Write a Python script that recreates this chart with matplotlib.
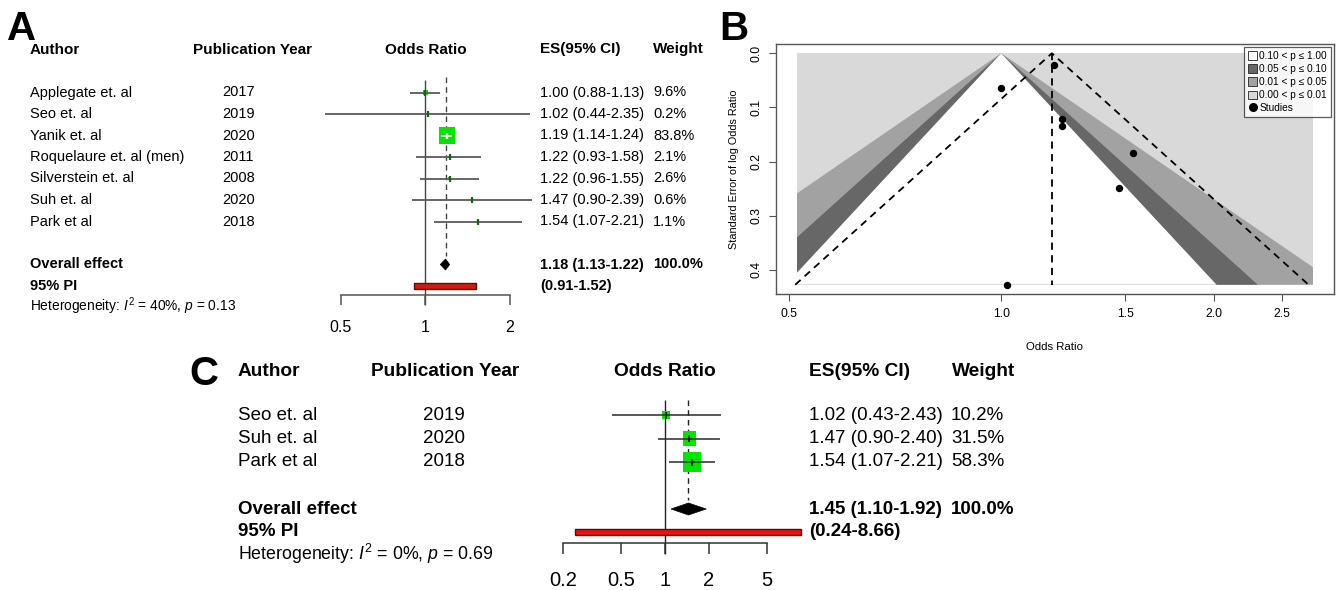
import numpy as np
import matplotlib
matplotlib.use("Agg")
import matplotlib.pyplot as plt
from matplotlib import transforms as mtransforms
from matplotlib.patches import Rectangle, Polygon, Patch
from matplotlib.lines import Line2D
from matplotlib.ticker import NullLocator
from statistics import NormalDist

W, H = 1342, 590
SANS = ['Liberation Sans', 'DejaVu Sans']
plt.rcParams['font.family'] = SANS
plt.rcParams['mathtext.fontset'] = 'custom'
plt.rcParams['mathtext.rm'] = 'Liberation Sans'
plt.rcParams['mathtext.it'] = 'Liberation Sans:italic'

# ---------------- Panel A data ----------------
a_authors = ["Applegate et. al", "Seo et. al", "Yanik et. al", "Roquelaure et. al (men)",
             "Silverstein et. al", "Suh et. al", "Park et al"]
a_years = ["2017", "2019", "2020", "2011", "2008", "2020", "2018"]
a_or = [1.00, 1.02, 1.19, 1.22, 1.22, 1.47, 1.54]
a_lo = [0.88, 0.44, 1.14, 0.93, 0.96, 0.90, 1.07]
a_hi = [1.13, 2.35, 1.24, 1.58, 1.55, 2.39, 2.21]
a_weight = [9.6, 0.2, 83.8, 2.1, 2.6, 0.6, 1.1]
a_pooled = [1.18, 1.13, 1.22]
a_pi = [0.91, 1.52]
a_i2 = 40
a_p = 0.13
a_ticks = [0.5, 1, 2]

# ---------------- Panel C data ----------------
c_authors = ["Seo et. al", "Suh et. al", "Park et al"]
c_years = ["2019", "2020", "2018"]
c_or = [1.02, 1.47, 1.54]
c_lo = [0.43, 0.90, 1.07]
c_hi = [2.43, 2.40, 2.21]
c_weight = [10.2, 31.5, 58.3]
c_pooled = [1.45, 1.10, 1.92]
c_pi = [0.24, 8.66]
c_i2 = 0
c_p = 0.69
c_ticks = [0.2, 0.5, 1, 2, 5]

# ---------------- Panel B data (funnel) ----------------
b_or = a_or
b_lo = a_lo
b_hi = a_hi
b_center = 1.18
b_p_levels = [0.10, 0.05, 0.01]
b_region_labels = ["0.10 < p \u2264 1.00", "0.05 < p \u2264 0.10",
                   "0.01 < p \u2264 0.05", "0.00 < p \u2264 0.01"]
b_region_colors = ["white", "#676767", "#a2a2a2", "#d9d9d9"]
b_xrange = [0.513, 2.77]
b_xticks = [0.5, 1.0, 1.5, 2.0, 2.5]
b_yticks = [0.0, 0.1, 0.2, 0.3, 0.4]

fig = plt.figure(figsize=(W / 100, H / 100), dpi=100)
fig.patch.set_facecolor("white")


def draw_forest(d, s):
    top_px = s['row0'] + s['row_h'] * s['span'][0]
    bot_px = s['row0'] + s['row_h'] * s['span'][1]
    ax = fig.add_axes([s['x0'] / W, 1 - bot_px / H, (s['x1'] - s['x0']) / W, (bot_px - top_px) / H])
    ax.set_xscale('log')
    xlim = (d['ticks'][0], d['ticks'][-1])
    ax.set_xlim(*xlim)
    ax.set_ylim(s['span'][1], s['span'][0])
    ax.patch.set_alpha(0)
    for side in ('left', 'right', 'top'):
        ax.spines[side].set_visible(False)
    ax.spines['bottom'].set_position(('data', s['axis_row']))
    ax.spines['bottom'].set_color(s['axis_color'])
    ax.spines['bottom'].set_linewidth(s['axis_lw'])
    ax.set_yticks([])
    ax.set_xticks(d['ticks'])
    ax.xaxis.set_minor_locator(NullLocator())
    ax.set_xticklabels([f"{t:g}" for t in d['ticks']])
    ax.tick_params(axis='x', direction='out', length=s['tick_len'], width=s['axis_lw'],
                   color=s['axis_color'], pad=s['tick_pad'], labelsize=s['fs_tick'])
    rh = s['row_h']
    ppd = (s['x1'] - s['x0']) / np.log10(xlim[1] / xlim[0])
    tick_end = s['axis_row'] + s['tick_len'] * 100 / 72 / rh
    blend = mtransforms.blended_transform_factory(fig.transFigure, ax.transData)
    cblend = mtransforms.blended_transform_factory(ax.transAxes, ax.transData)

    # reference and pooled lines
    ax.plot([1, 1], [s['ref_top'], tick_end], color=s['ref_color'], lw=s['ref_lw'], zorder=1,
            solid_capstyle='butt', clip_on=False)
    est, plo, phi = d['pooled']
    ax.plot([est, est], [s['dash_top'], s['dash_bot']], color=s['dash_color'], lw=s['dash_lw'],
            ls=(0, (4, 3)), zorder=1, clip_on=False)

    wmax = max(d['w'])
    for r, (e, lo, hi, w) in enumerate(zip(d['or'], d['lo'], d['hi'], d['w'])):
        side = s['box_max'] * np.sqrt(w / wmax)
        hw = 10 ** (side / 2 / ppd)
        bx0, bx1 = e / hw, e * hw
        hh = side * s['box_aspect'] / 2 / rh
        ax.add_patch(Rectangle((bx0, r - hh), bx1 - bx0, 2 * hh, facecolor=s['box_color'],
                               edgecolor='none', zorder=3, clip_on=False))
        inside = lo >= bx0 and hi <= bx1
        lc = 'white' if inside else s['line_color']
        mc = 'white' if inside else s['mark_color']
        ax.plot([lo, hi], [r, r], color=lc, lw=s['line_lw'], zorder=4, solid_capstyle='butt',
                clip_on=False)
        th = s['mark_half'] / rh
        ax.plot([e, e], [r - th, r + th], color=mc, lw=s['mark_lw'], zorder=5,
                solid_capstyle='butt', clip_on=False)
        ax.text(s['col_author'] / W, r, d['authors'][r], transform=blend, va='center',
                ha='left', fontsize=s['fs'])
        ax.text(s['col_year'] / W, r, d['years'][r], transform=blend, va='center',
                ha='left', fontsize=s['fs'])
        ax.text(s['col_es'] / W, r, f"{e:.2f} ({lo:.2f}-{hi:.2f})", transform=blend,
                va='center', ha='left', fontsize=s['fs'])
        ax.text(s['col_w'] / W, r, f"{w:.1f}%", transform=blend, va='center', ha='left',
                fontsize=s['fs'])

    # overall diamond
    orow = s['overall_row']
    dh = s['diamond_half'] / rh
    ax.add_patch(Polygon([[plo, orow], [est, orow - dh], [phi, orow], [est, orow + dh]],
                         closed=True, facecolor='black', edgecolor='black', lw=0.5, zorder=5,
                         clip_on=False))
    # prediction interval bar
    prow = s['pi_row']
    ph = s['pi_half'] / rh
    pil, pih = d['pi']
    ax.add_patch(Rectangle((pil, prow - ph), pih - pil, 2 * ph, facecolor=s['pi_color'],
                           edgecolor=s['pi_edge'], lw=1.0, zorder=5, clip_on=False))

    # headers
    hrow = s['header_row']
    hk = dict(transform=blend, va='center', ha='left', fontsize=s['fs_head'], fontweight='bold')
    ax.text(s['col_author'] / W, hrow, "Author", **hk)
    ax.text(s['col_pub'] / W, hrow, "Publication Year", **hk)
    ax.text(0.5, hrow, "Odds Ratio", transform=cblend, va='center', ha='center',
            fontsize=s['fs_head'], fontweight='bold')
    ax.text(s['col_es'] / W, hrow, "ES(95% CI)", **hk)
    ax.text(s['col_wh'] / W, hrow, "Weight", **hk)

    bk = dict(transform=blend, va='center', ha='left', fontsize=s['fs'], fontweight='bold')
    ax.text(s['col_author'] / W, orow, "Overall effect", **bk)
    ax.text(s['col_author'] / W, prow, "95% PI", **bk)
    ax.text(s['col_es'] / W, orow, f"{est:.2f} ({plo:.2f}-{phi:.2f})", **bk)
    ax.text(s['col_w'] / W, orow, "100.0%", **bk)
    ax.text(s['col_es'] / W, prow, f"({pil:.2f}-{pih:.2f})", **bk)
    ax.text(s['col_author'] / W, s['het_row'],
            f"Heterogeneity: $I^2$ = {d['i2']}%, $p$ = {d['p']:.2f}",
            transform=blend, va='center', ha='left', fontsize=s['fs_het'])
    return ax


a_data = dict(authors=a_authors, years=a_years, ticks=a_ticks, pooled=a_pooled, pi=a_pi,
              w=a_weight, i2=a_i2, p=a_p, lo=a_lo, hi=a_hi)
a_data['or'] = a_or
a_style = dict(x0=340.7, x1=510.0, row0=92.5, row_h=21.5, span=(-3, 12), axis_row=9.4,
               header_row=-2.0, overall_row=8, pi_row=9, het_row=9.95,
               col_author=30, col_year=222, col_pub=193, col_es=540, col_w=653, col_wh=653,
               fs=10.5, fs_head=11.0, fs_het=9.9, fs_tick=11.5,
               tick_len=7.4, tick_pad=11, axis_color='#555555', axis_lw=1.1,
               ref_top=-0.6, ref_color='#444444', ref_lw=1.0,
               dash_top=-0.7, dash_bot=7.6, dash_color='#444444', dash_lw=1.0,
               box_max=16, box_aspect=1.1, box_color='#00e600',
               line_color='#5a5a5a', line_lw=1.3, mark_color='#0a6a0a', mark_half=3.0, mark_lw=1.6,
               diamond_half=5.5, pi_half=2.6, pi_color='#d41a0e', pi_edge='#5a1008')
draw_forest(a_data, a_style)

c_data = dict(authors=c_authors, years=c_years, ticks=c_ticks, pooled=c_pooled, pi=c_pi,
              w=c_weight, i2=c_i2, p=c_p, lo=c_lo, hi=c_hi)
c_data['or'] = c_or
c_style = dict(x0=563.3, x1=766.7, row0=415.0, row_h=23.5, span=(-2.5, 7.4), axis_row=5.43,
               header_row=-1.83, overall_row=4, pi_row=4.97, het_row=5.9,
               col_author=238, col_year=423, col_pub=371, col_es=809, col_w=951, col_wh=952,
               fs=13.5, fs_head=13.8, fs_het=12.8, fs_tick=14.5,
               tick_len=8.1, tick_pad=12, axis_color='#333333', axis_lw=1.1,
               ref_top=-0.65, ref_color='#222222', ref_lw=1.0,
               dash_top=-0.65, dash_bot=3.6, dash_color='#222222', dash_lw=1.0,
               box_max=18, box_aspect=1.1, box_color='#00e600',
               line_color='#2a2a2a', line_lw=1.1, mark_color='#111111', mark_half=3.5, mark_lw=1.2,
               diamond_half=6.0, pi_half=2.8, pi_color='#ee1010', pi_edge='#5a0a0a')
draw_forest(c_data, c_style)

# ---------------- Panel B : contour-enhanced funnel plot ----------------
axb = fig.add_axes([776 / W, 1 - 294 / H, (1334 - 776) / W, (294 - 44) / H])
axb.set_xscale('log')
zc = NormalDist().inv_cdf(0.975)
se = [(np.log(h) - np.log(l)) / (2 * zc) for l, h in zip(b_lo, b_hi)]
semax = max(se)
lx0, lx1 = np.log(b_xrange[0]), np.log(b_xrange[1])
pad = 0.04 * (lx1 - lx0)
axb.set_xlim(np.exp(lx0 - pad), np.exp(lx1 + pad))
axb.set_ylim(semax * 1.04, -0.04 * semax)

bg = Rectangle((b_xrange[0], 0), b_xrange[1] - b_xrange[0], semax,
               facecolor=b_region_colors[3], edgecolor='none', zorder=1)
axb.add_patch(bg)
# contour regions drawn from widest (p=0.01) to narrowest (p=0.10)
for p, col in zip(b_p_levels[::-1], b_region_colors[2::-1]):
    z = NormalDist().inv_cdf(1 - p / 2)
    tri = Polygon([[np.exp(-z * semax), semax], [1.0, 0.0], [np.exp(z * semax), semax]],
                  closed=True, facecolor=col, edgecolor='none', zorder=2)
    axb.add_patch(tri)
    tri.set_clip_path(bg)

lc = np.log(b_center)
axb.plot([b_center, b_center], [0, semax], color='black', lw=1.3, ls=(0, (4, 3)), zorder=3)
axb.plot([np.exp(lc - zc * semax), b_center, np.exp(lc + zc * semax)], [semax, 0, semax],
         color='black', lw=1.3, ls=(0, (4, 3)), zorder=3)
axb.plot(b_or, se, 'o', color='black', ms=4.3, zorder=4)

axb.set_xticks(b_xticks)
axb.xaxis.set_minor_locator(NullLocator())
axb.set_xticklabels([f"{t:.1f}" for t in b_xticks])
axb.set_yticks(b_yticks)
axb.set_yticklabels([f"{t:.1f}" for t in b_yticks], rotation=90, va='center')
axb.tick_params(direction='out', length=5, width=0.8, color='#555555', labelsize=8.8,
                pad=5)
for sp in axb.spines.values():
    sp.set_color('#555555')
    sp.set_linewidth(1.0)
axb.set_xlabel("Odds Ratio", fontsize=8.2)
axb.xaxis.set_label_coords(0.5, -0.19)
axb.set_ylabel("Standard Error of log Odds Ratio", fontsize=7.8)
axb.yaxis.set_label_coords(-0.066, 0.5)

handles = [Patch(facecolor=c, edgecolor='#222222', lw=0.6) for c in b_region_colors]
handles.append(Line2D([], [], marker='o', color='black', ls='none', ms=5.5))
labels = b_region_labels + ["Studies"]
leg = axb.legend(handles, labels, loc='upper right', frameon=True, fancybox=False,
                 edgecolor='#333333', borderaxespad=0.3, handlelength=0.9, handleheight=0.9,
                 handletextpad=0.2, labelspacing=0.3, borderpad=0.4,
                 prop={'family': SANS, 'size': 7.3})
leg.get_frame().set_linewidth(0.9)

# ---------------- Panel letters ----------------
for x, y, lab in [(7, 40, "A"), (719, 40, "B"), (189, 385, "C")]:
    fig.text(x / W, 1 - y / H, lab, fontsize=29, fontweight='bold',
             va='baseline', ha='left')

fig.savefig("out.png", dpi=100, facecolor='white')
